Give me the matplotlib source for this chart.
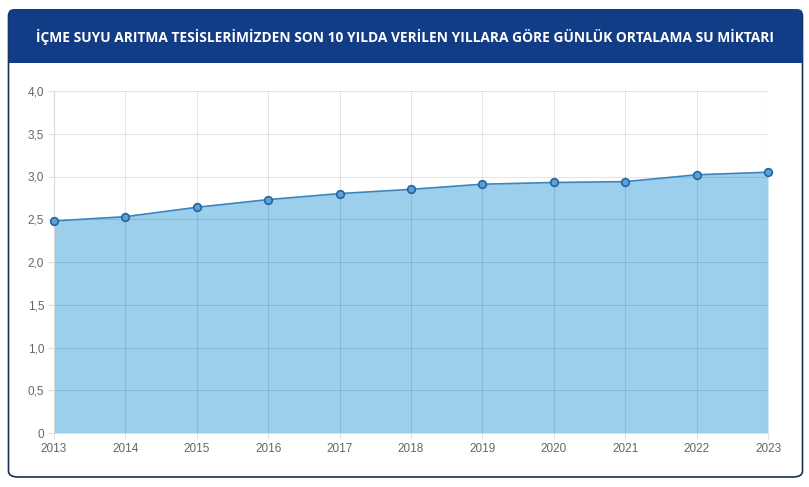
import matplotlib.pyplot as plt
from matplotlib.patches import FancyBboxPatch, Rectangle
from matplotlib.ticker import FuncFormatter

years = [2013, 2014, 2015, 2016, 2017, 2018, 2019, 2020, 2021, 2022, 2023]
values = [2.48, 2.53, 2.64, 2.73, 2.80, 2.85, 2.91, 2.93, 2.94, 3.02, 3.05]
y_ticks = [0, 0.5, 1.0, 1.5, 2.0, 2.5, 3.0, 3.5, 4.0]
title = "İÇME SUYU ARITMA TESİSLERİMİZDEN SON 10 YILDA VERİLEN YILLARA GÖRE GÜNLÜK ORTALAMA SU MİKTARI"

W, H = 809, 487
fig = plt.figure(figsize=(W / 100, H / 100), dpi=100)
fig.patch.set_facecolor("white")

# kart çerçevesi
card = FancyBboxPatch((8.5 / W, 1 - 477 / H), 794 / W, 467 / H,
                      boxstyle="round,pad=0,rounding_size=0.012",
                      transform=fig.transFigure, facecolor="white",
                      edgecolor="#1f2d4d", linewidth=1.2, zorder=-3)
fig.patches.append(card)

# başlık bandı
header = FancyBboxPatch((8.5 / W, 1 - 63 / H), 794 / W, 54 / H,
                        boxstyle="round,pad=0,rounding_size=0.008",
                        transform=fig.transFigure, facecolor="#123c85",
                        edgecolor="#123c85", linewidth=0, zorder=-2)
fig.patches.append(header)
fig.patches.append(Rectangle((8.5 / W, 1 - 63 / H), 794 / W, 20 / H,
                             transform=fig.transFigure, facecolor="#123c85",
                             edgecolor="none", zorder=-2))
fig.text(405 / W, 1 - 37 / H, title, color="white", fontsize=9.9,
         fontweight="bold", family="Open Sans", ha="center", va="center")

ax = fig.add_axes([54 / W, 1 - 433 / H, 714 / W, 342 / H])
ax.patch.set_alpha(0)
ax.fill_between(years, values, 0, color="#9bcfeb", zorder=0.5, linewidth=0)
ax.plot(years, values, color="#3a84c0", linewidth=1.2, zorder=3)
ax.plot(years, values, "o", markersize=5.5, markerfacecolor="#5ba0d6",
        markeredgecolor="#24659f", markeredgewidth=1.2, zorder=4,
        clip_on=False)

ax.set_xlim(2013, 2023)
ax.set_ylim(0, 4.0)
ax.set_xticks(years)
ax.set_yticks(y_ticks)
ax.yaxis.set_major_formatter(FuncFormatter(
    lambda v, p: "0" if v == 0 else f"{v:.1f}".replace(".", ",")))
ax.set_axisbelow(True)
ax.grid(True, color="#000000", alpha=0.1, linewidth=0.8)
for s in ["top", "right", "bottom"]:
    ax.spines[s].set_visible(False)
ax.spines["left"].set_color("#d9d9d9")
ax.tick_params(colors="#e0e0e0", labelcolor="#666666", labelsize=8.5,
               length=4)
ax.tick_params(axis="x", pad=3)
ax.tick_params(axis="y", pad=3)
for lbl in ax.get_xticklabels() + ax.get_yticklabels():
    lbl.set_family("Liberation Sans")

plt.savefig("out.png", dpi=100)
